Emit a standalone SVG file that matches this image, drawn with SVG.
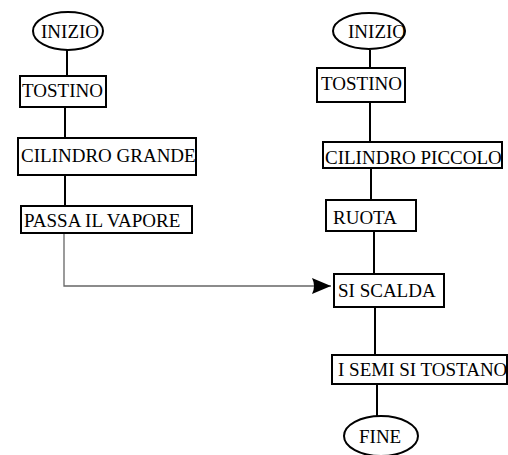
<svg xmlns="http://www.w3.org/2000/svg" width="508" height="455" viewBox="0 0 508 455">
<style>
.box{fill:#fff;stroke:#000;stroke-width:2}
.lbl{font-family:"Liberation Serif","Times New Roman",serif;font-size:19px;fill:#000}
.con{stroke:#000;stroke-width:2;fill:none}
.flow{stroke:#666;stroke-width:1.3;fill:none}
</style>
<defs>
<marker id="arr" markerWidth="19" markerHeight="16" refX="19" refY="8" orient="auto" markerUnits="userSpaceOnUse">
<path d="M0,0 L19,8 L0,16 Q4,8 0,0 Z" fill="#000"/>
</marker>
</defs>
<rect width="508" height="455" fill="#fff"/>
<g id="connectors">
<line class="con" x1="67" y1="50" x2="67" y2="76"/>
<line class="con" x1="65" y1="107" x2="65" y2="138"/>
<line class="con" x1="65" y1="175" x2="65" y2="206"/>
<path class="flow" d="M64,233 V286 H331" marker-end="url(#arr)"/>
<line class="con" x1="370" y1="50" x2="370" y2="68"/>
<line class="con" x1="370" y1="102" x2="370" y2="142"/>
<line class="con" x1="371" y1="168" x2="371" y2="200"/>
<line class="con" x1="374" y1="231" x2="374" y2="274"/>
<line class="con" x1="375" y1="307" x2="375" y2="355"/>
<line class="con" x1="377" y1="384" x2="377" y2="416"/>
</g>
<g id="inizio-left"><ellipse class="box" cx="68" cy="31" rx="35" ry="19"/><text class="lbl" x="41" y="38">INIZIO</text></g>
<g id="tostino-left"><rect class="box" x="20" y="76" width="86" height="31"/><text class="lbl" x="22" y="97">TOSTINO</text></g>
<g id="cilindro-grande"><rect class="box" x="18" y="138" width="178" height="37"/><text class="lbl" x="21" y="162">CILINDRO GRANDE</text></g>
<g id="passa-vapore"><rect class="box" x="21" y="206" width="171" height="27"/><text class="lbl" x="24" y="227">PASSA IL VAPORE</text></g>
<g id="inizio-right"><ellipse class="box" cx="369" cy="31" rx="36" ry="18"/><text class="lbl" x="348" y="38">INIZIO</text></g>
<g id="tostino-right"><rect class="box" x="317" y="68" width="88" height="34"/><text class="lbl" x="321" y="90">TOSTINO</text></g>
<g id="cilindro-piccolo"><rect class="box" x="323" y="142" width="179" height="26"/><text class="lbl" x="325" y="164">CILINDRO PICCOLO</text></g>
<g id="ruota"><rect class="box" x="326" y="200" width="90" height="31"/><text class="lbl" x="333" y="224">RUOTA</text></g>
<g id="si-scalda"><rect class="box" x="334" y="274" width="110" height="33"/><text class="lbl" x="338" y="297">SI SCALDA</text></g>
<g id="semi-tostano"><rect class="box" x="332" y="355" width="175" height="29"/><text class="lbl" x="338" y="376">I SEMI SI TOSTANO</text></g>
<g id="fine"><ellipse class="box" cx="381" cy="436" rx="37" ry="20"/><text class="lbl" x="359" y="443">FINE</text></g>
</svg>
